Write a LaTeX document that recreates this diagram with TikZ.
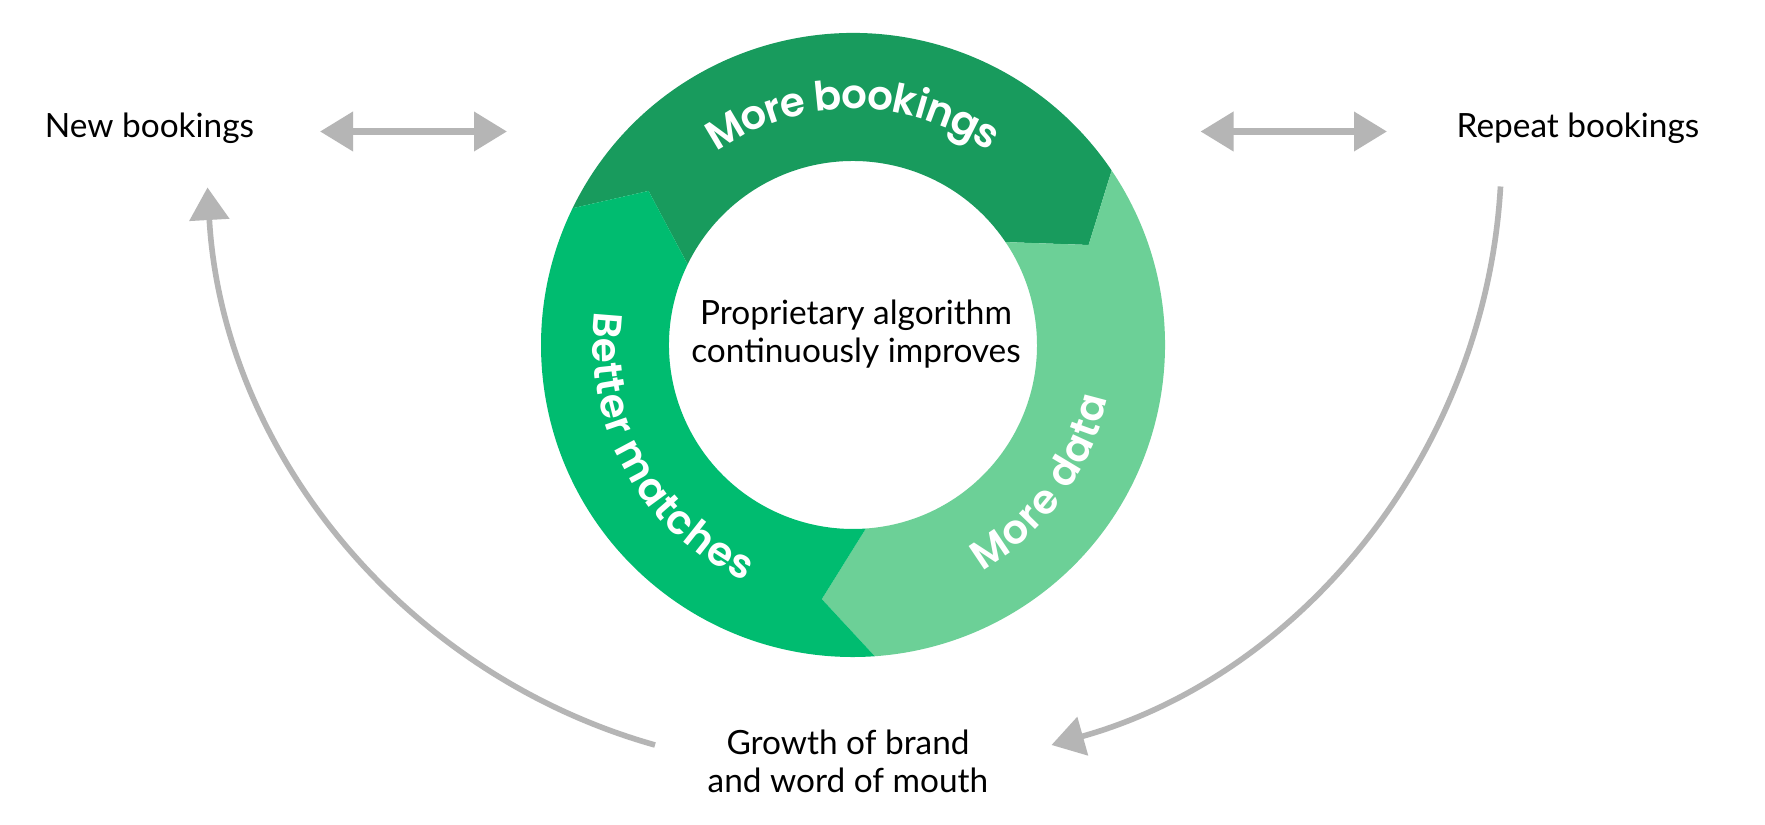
\documentclass[tikz,border=0pt]{standalone}
\usepackage{fontspec}
\setmainfont{Lato}
\newfontfamily\ringfont{Poppins SemiBold}
\usetikzlibrary{arrows.meta,decorations.text}

\definecolor{bookgreen}{HTML}{189B5D}
\definecolor{matchgreen}{HTML}{00BC70}
\definecolor{datagreen}{HTML}{6CD097}
\definecolor{loopgray}{HTML}{B5B5B5}

% one part of the ring: start angle, end angle, colour
\newcommand{\ringpart}[3]{
	\fill[#3] (#1:6.24) arc[start angle=#1, end angle=#2, radius=6.24]
		-- ({#2-11}:5.12) -- (#2:3.68)
		arc[start angle=#2, end angle=#1, radius=3.68]
		-- ({#1-11}:5.12) -- cycle;
}

\begin{document}
\begin{tikzpicture}[
	plaintext/.style={font=\fontsize{19}{21.8}\selectfont, inner sep=0pt, align=center},
	biarrow/.style={draw=loopgray, line width=4pt, >={Triangle[length=6.6mm, width=7.6mm]}, <->},
	looparrow/.style={draw=loopgray, line width=3.2pt, >={Triangle[length=6.5mm, width=7.8mm]}, ->},
	ringtext/.style={decorate, decoration={text along path, text align=center,
		raise=-2.4mm, text color=white,
		text={|\ringfont\fontsize{23}{23}\selectfont|#1}}}]
	\fill[white] (0,0) rectangle (35.3,16.48);
	\useasboundingbox (0,0) rectangle (35.3,16.48);

	% the ring
	\begin{scope}[shift={(17.06,9.58)}]
		\ringpart{154}{34}{bookgreen}
		\ringpart{34}{-86}{datagreen}
		\ringpart{274}{154}{matchgreen}
		\path[ringtext=More bookings] (150:4.96) arc[start angle=150, end angle=30, radius=4.96];
		\path[ringtext=More data] (-86:4.96) arc[start angle=-86, end angle=14, radius=4.96];
		\path[ringtext=Better matches] (159:4.96) arc[start angle=159, end angle=259, radius=4.96];
	\end{scope}

	% texts
	\node[plaintext, anchor=base] (newb) at (2.99,13.72) {New bookings};
	\node[plaintext, anchor=base] (repb) at (31.56,13.72) {Repeat bookings};
	\node[plaintext] (algo) at (17.12,9.8) {Proprietary algorithm\\continuously improves};
	\node[plaintext] (growth) at (16.96,1.26) {Growth of brand\\and word of mouth};

	% arrows
	\coordinate (newbE) at (6.40,13.85);
	\coordinate (ringW) at (10.14,13.85);
	\coordinate (ringE) at (24.01,13.85);
	\coordinate (repbW) at (27.74,13.85);
	\draw[biarrow] (newbE) -- (ringW);
	\draw[biarrow] (ringE) -- (repbW);
	\coordinate (growthW) at (13.10,1.58);
	\coordinate (newbS) at (4.15,12.73);
	\coordinate (repbS) at (30.01,12.75);
	\coordinate (growthE) at (21.03,1.58);
	\draw[looparrow] (growthW) to[bend left=35.5, looseness=0.94] (newbS);
	\draw[looparrow] (repbS) to[bend left=35.5, looseness=0.94] (growthE);
\end{tikzpicture}
\end{document}
